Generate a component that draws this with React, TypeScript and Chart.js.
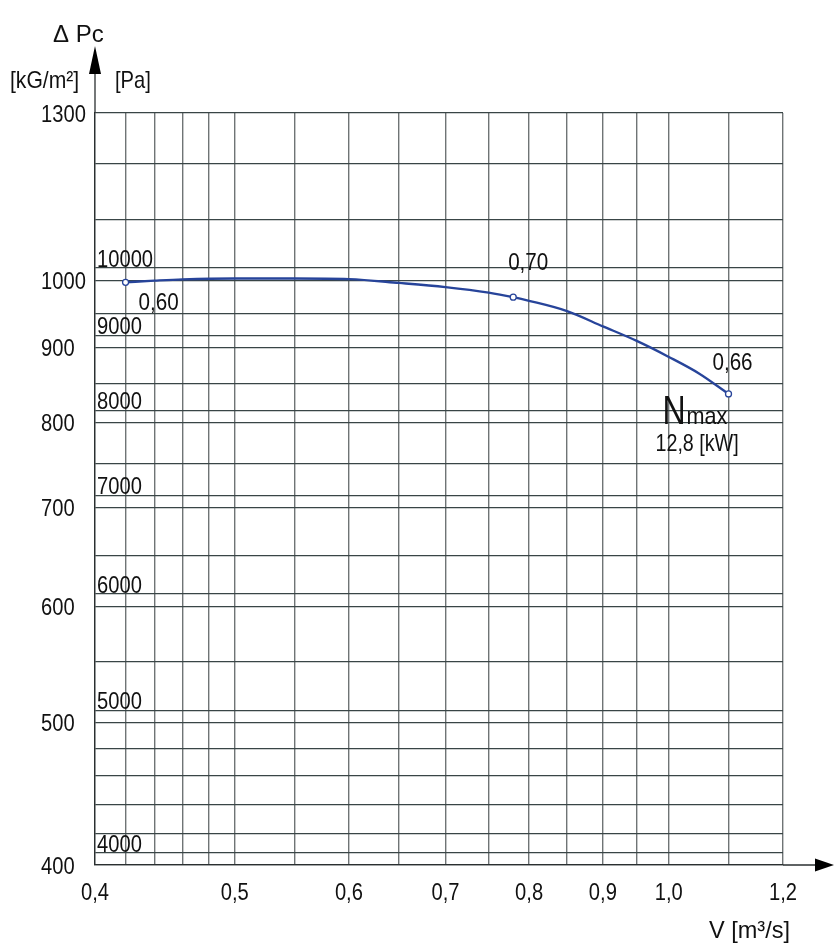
import React, { useEffect, useRef } from 'react';
import { Chart, registerables } from 'chart.js';

Chart.register(...registerables);

const PA_PER_KG = 9.80665;

// Fan characteristic: flow V [m³/s] vs static pressure ΔPc [kG/m²]
const flowV = [0.42, 0.44, 0.46, 0.5, 0.55, 0.6, 0.65, 0.7, 0.75, 0.78, 0.8, 0.85, 0.9, 0.95, 1.0, 1.05, 1.1];
const pressureKg = [997, 999.5, 1001.5, 1003, 1003, 1002, 996, 989.5, 981, 974, 968.5, 953, 930.5, 909.5, 887, 864, 837];
const markerIndex = [0, 9, 16];
const markerLabels = ['0,60', '0,70', '0,66'];

const xGridValues = [0.4, 0.42, 0.44, 0.46, 0.48, 0.5, 0.55, 0.6, 0.65, 0.7, 0.75, 0.8, 0.85, 0.9, 0.95, 1.0, 1.1, 1.2];
const xTickLabels = [0.4, 0.5, 0.6, 0.7, 0.8, 0.9, 1.0, 1.2];
const yGridKg = [400, 420, 440, 460, 480, 500, 550, 600, 650, 700, 750, 800, 850, 900, 950, 1000, 1100, 1200, 1300];
const yTickLabelsKg = [400, 500, 600, 700, 800, 900, 1000, 1300];
const yGridPa = [4000, 5000, 6000, 7000, 8000, 9000, 10000];

const yTitle = 'Δ Pc';
const yUnitKg = '[kG/m²]';
const yUnitPa = '[Pa]';
const xTitle = 'V [m³/s]';
const nmaxMain = 'N';
const nmaxSub = 'max';
const nmaxValue = '12,8 [kW]';

const FONT = "'Liberation Sans', Arial, sans-serif";

function drawText(ctx: CanvasRenderingContext2D, text: string, x: number, y: number, sx: number, align: CanvasTextAlign, size = 24) {
  ctx.save();
  ctx.font = `${size}px ${FONT}`;
  ctx.textAlign = align;
  ctx.textBaseline = 'alphabetic';
  ctx.translate(x, y);
  ctx.scale(sx, 1);
  ctx.fillText(text, 0, 0);
  ctx.restore();
}

const decoPlugin = {
  id: 'deco',
  afterDraw(chart: any) {
    const { ctx, chartArea: ca, scales } = chart;
    const xs = scales.x;
    const ys = scales.y;
    ctx.save();
    ctx.strokeStyle = '#2a2f30';
    ctx.fillStyle = '#000';
    ctx.lineWidth = 1.3;
    // y axis extension + arrow
    ctx.beginPath();
    ctx.moveTo(ca.left, ca.top);
    ctx.lineTo(ca.left, ca.top - 42);
    ctx.stroke();
    ctx.beginPath();
    ctx.moveTo(ca.left, ca.top - 67);
    ctx.lineTo(ca.left - 6, ca.top - 39);
    ctx.lineTo(ca.left + 6, ca.top - 39);
    ctx.closePath();
    ctx.fill();
    // x axis extension + arrow
    ctx.beginPath();
    ctx.moveTo(ca.right, ca.bottom);
    ctx.lineTo(ca.right + 34, ca.bottom);
    ctx.stroke();
    ctx.beginPath();
    ctx.moveTo(ca.right + 51, ca.bottom);
    ctx.lineTo(ca.right + 32, ca.bottom - 6.5);
    ctx.lineTo(ca.right + 32, ca.bottom + 6.5);
    ctx.closePath();
    ctx.fill();

    ctx.fillStyle = '#111';
    // titles / units
    drawText(ctx, yTitle, ca.left - 42, 42, 1.0, 'left');
    drawText(ctx, yUnitKg, 10, 88, 0.88, 'left');
    drawText(ctx, yUnitPa, ca.left + 20, 88, 0.84, 'left');
    drawText(ctx, xTitle, 709, 938, 0.98, 'left');

    // axis tick labels (positions from the chart scales)
    xTickLabels.forEach((v) => {
      drawText(ctx, v.toFixed(1).replace('.', ','), xs.getPixelForValue(v), 900, 0.84, 'center');
    });
    yTickLabelsKg.forEach((v) => {
      drawText(ctx, String(v), 41, ys.getPixelForValue(v) + 8.5, 0.84, 'left');
    });

    // Pa grid labels
    yGridPa.forEach((pa) => {
      const py = ys.getPixelForValue(pa / PA_PER_KG);
      drawText(ctx, String(pa), ca.left + 2, py - 1, 0.84, 'left');
    });

    // marker labels
    const pts = markerIndex.map((i) => ({
      x: xs.getPixelForValue(flowV[i]),
      y: ys.getPixelForValue(pressureKg[i]),
    }));
    drawText(ctx, markerLabels[0], pts[0].x + 13, pts[0].y + 28, 0.86, 'left');
    drawText(ctx, markerLabels[1], pts[1].x + 15, pts[1].y - 27, 0.86, 'center');
    drawText(ctx, markerLabels[2], pts[2].x + 4, pts[2].y - 24, 0.86, 'center');

    // Nmax annotation
    const p = pts[2];
    drawText(ctx, nmaxMain, p.x - 66, p.y + 30, 0.8, 'left', 40);
    drawText(ctx, nmaxSub, p.x - 42, p.y + 30, 0.9, 'left');
    drawText(ctx, nmaxValue, p.x - 73, p.y + 57, 0.82, 'left');
    ctx.restore();
  },
};

export default function App() {
  const ref = useRef<HTMLCanvasElement | null>(null);
  useEffect(() => {
    document.body.style.margin = '0';
    const canvas = ref.current!;
    const yTicks = [...yGridKg, ...yGridPa.map((p) => p / PA_PER_KG)].sort((a, b) => a - b);
    const chart = new Chart(canvas, {
      type: 'line',
      data: {
        datasets: [
          {
            data: flowV.map((v, i) => ({ x: v, y: pressureKg[i] })),
            borderColor: '#27449a',
            borderWidth: 2.3,
            cubicInterpolationMode: 'monotone',
            pointRadius: (c: any) => (markerIndex.includes(c.dataIndex) ? 3 : 0),
            pointBackgroundColor: '#ffffff',
            pointBorderColor: '#27449a',
            pointBorderWidth: 1.3,
            fill: false,
          },
        ],
      },
      options: {
        responsive: false,
        animation: false,
        devicePixelRatio: 1,
        layout: { padding: { left: 41, right: 51, top: 113, bottom: 0 } },
        plugins: { legend: { display: false }, tooltip: { enabled: false } },
        scales: {
          x: {
            type: 'logarithmic',
            min: 0.4,
            max: 1.2,
            afterBuildTicks: (s: any) => {
              s.ticks = xGridValues.map((v) => ({ value: v }));
            },
            afterFit: (s: any) => {
              s.height = 78;
            },
            grid: { color: '#6f7475', lineWidth: 1.4, drawTicks: false },
            border: { color: '#2a2f30', width: 1.3 },
            ticks: { display: false, autoSkip: false },
          },
          y: {
            type: 'logarithmic',
            min: 400,
            max: 1300,
            afterBuildTicks: (s: any) => {
              s.ticks = yTicks.map((v) => ({ value: v }));
            },
            afterFit: (s: any) => {
              s.width = 54;
            },
            grid: { color: '#394546', lineWidth: 1.2, drawTicks: false },
            border: { color: '#2a2f30', width: 1.3 },
            ticks: { display: false, autoSkip: false },
          },
        },
      },
      plugins: [decoPlugin],
    } as any);
    return () => chart.destroy();
  }, []);
  return <canvas ref={ref} width={834} height={943} style={{ display: 'block', width: 834, height: 943 }} />;
}
